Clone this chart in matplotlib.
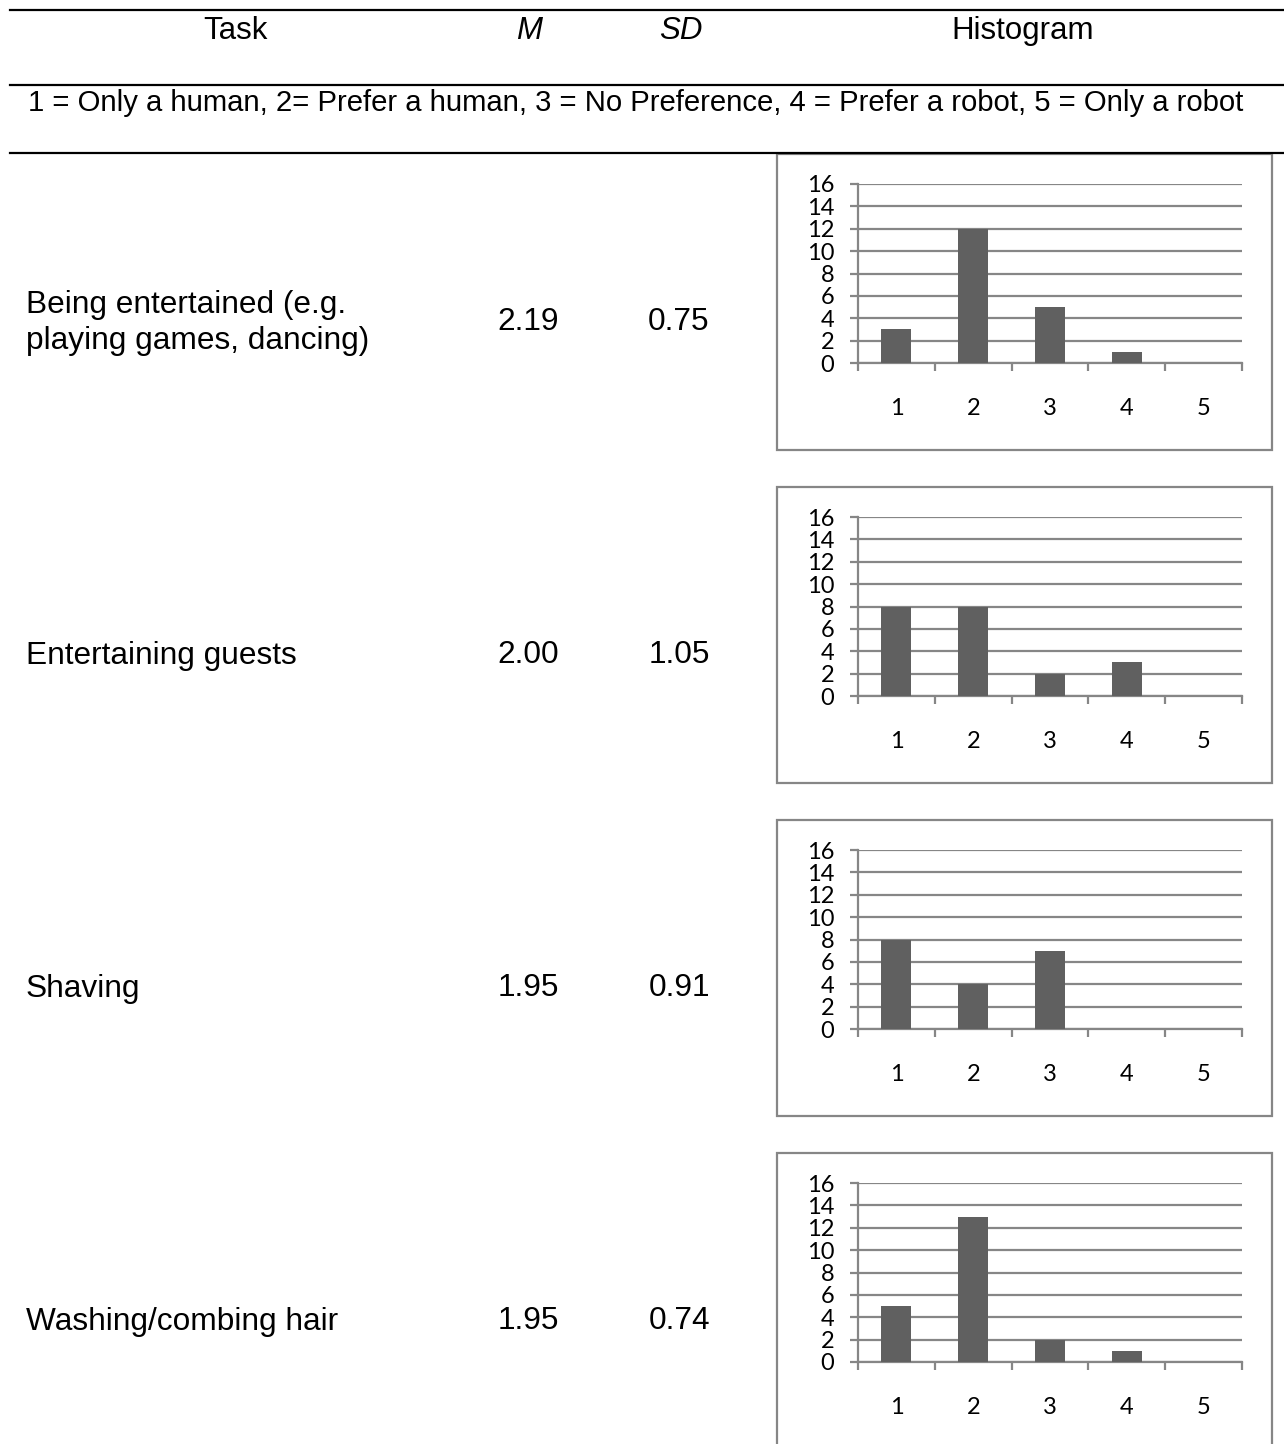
import matplotlib.pyplot as plt
from matplotlib.patches import Rectangle
from matplotlib.lines import Line2D

# table content
tasks = ["Being entertained (e.g.\nplaying games, dancing)",
         "Entertaining guests",
         "Shaving",
         "Washing/combing hair"]
means = ["2.19", "2.00", "1.95", "1.95"]
sds = ["0.75", "1.05", "0.91", "0.74"]
categories = [1, 2, 3, 4, 5]
counts = [[3, 12, 5, 1, 0],
          [8, 8, 2, 3, 0],
          [8, 4, 7, 0, 0],
          [5, 13, 2, 1, 0]]
y_ticks = [0, 2, 4, 6, 8, 10, 12, 14, 16]
scale_note = ("1 = Only a human, 2= Prefer a human, 3 = No Preference, "
              "4 = Prefer a robot, 5 = Only a robot")

W, H = 1284, 1444
fig = plt.figure(figsize=(W / 100, H / 100), dpi=100)


def fx(x):
    return x / W


def fy(y):
    return 1 - y / H


txt = dict(family="Liberation Sans", color="black")
grey = "#868686"
bar_col = "#606060"

# horizontal rules of the table
for yy in [10, 85, 153]:
    fig.add_artist(Line2D([fx(10), fx(1284)], [fy(yy), fy(yy)], color="black", lw=1.6))

fig.text(fx(235), fy(31), "Task", ha="center", va="center", fontsize=22.5, **txt)
fig.text(fx(529), fy(31), "M", ha="center", va="center", style="italic", fontsize=22.5, **txt)
fig.text(fx(681), fy(31), "SD", ha="center", va="center", style="italic", fontsize=22.5, **txt)
fig.text(fx(1023), fy(31), "Histogram", ha="center", va="center", fontsize=22.5, **txt)
fig.text(fx(28), fy(103), scale_note, ha="left", va="center", fontsize=21.05, **txt)

box_top0 = 154
step = 333
for i, task in enumerate(tasks):
    top = box_top0 + i * step
    row_y = top + 168
    fig.text(fx(26), fy(row_y + 1), task, ha="left", va="center", linespacing=1.27,
             fontsize=22.8, **txt)
    fig.text(fx(528), fy(row_y), means[i], ha="center", va="center", fontsize=22.8, **txt)
    fig.text(fx(679), fy(row_y), sds[i], ha="center", va="center", fontsize=22.8, **txt)

    # chart frame
    fig.add_artist(Rectangle((fx(777), fy(top + 296)), fx(1272) - fx(777), 296 / H,
                             transform=fig.transFigure, fill=False, ec=grey, lw=1.6))

    ax = fig.add_axes([fx(858), fy(top + 209), fx(1242) - fx(858), (209 - 30) / H])
    ax.bar(categories, counts[i], width=0.39, color=bar_col, zorder=3)
    ax.set_xlim(0.5, 5.5)
    ax.set_ylim(0, 16)
    ax.set_yticks(y_ticks)
    ax.set_xticks(categories)
    ax.set_xticks([c - 0.5 for c in categories] + [5.5], minor=True)
    ax.yaxis.grid(True, color=grey, lw=1.6, zorder=0)
    for s in ["top", "right"]:
        ax.spines[s].set_visible(False)
    for s in ["left", "bottom"]:
        ax.spines[s].set_color(grey)
        ax.spines[s].set_linewidth(1.6)
    ax.tick_params(axis="y", direction="out", length=6, width=1.6, color=grey,
                   pad=11, labelsize=17)
    ax.tick_params(axis="x", which="major", length=0, pad=25, labelsize=17)
    ax.tick_params(axis="x", which="minor", direction="out", length=6, width=1.6, color=grey)
    for lab in ax.get_xticklabels() + ax.get_yticklabels():
        lab.set_family("Lato")
    ax.set_facecolor("none")

fig.savefig("out.png", dpi=100)
